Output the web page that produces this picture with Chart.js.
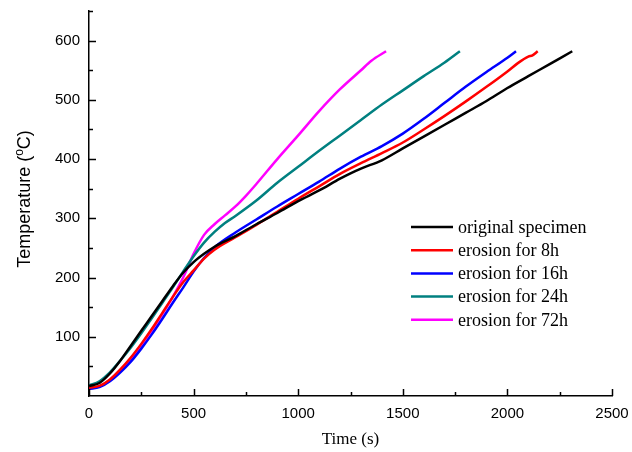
<!DOCTYPE html>
<html>
<head>
<meta charset="utf-8">
<script src="https://cdn.jsdelivr.net/npm/chart.js@4.4.1/dist/chart.umd.min.js"></script>
<style>
    html, body { margin: 0; padding: 0; background: #fff; }
</style>
</head>
<body>
<canvas id="myChart" width="632" height="452"></canvas>
<script>
// Series names and colours
const seriesNames = ["original specimen", "erosion for 8h", "erosion for 16h", "erosion for 24h", "erosion for 72h"];
const seriesColors = ["#000000", "#ff0000", "#0000ff", "#008080", "#ff00ff"];

// Time (s) and temperature (C), one pair of arrays per curve
const timeOriginal = [0, 50, 100, 150, 200, 250, 300, 350, 400, 450, 500, 550, 600, 700, 800, 900, 1000, 1100, 1200, 1250, 1300, 1400, 1500, 1600, 1700, 1800, 1900, 2000, 2100, 2200, 2310];
const tempOriginal = [17, 22, 38, 60, 85, 110, 135, 160, 185, 208, 226, 240, 252, 270, 290, 309, 329, 347, 367, 376, 384, 398, 418, 438, 458, 478, 498, 520, 540, 560, 582];

const time8h = [0, 50, 100, 150, 200, 250, 300, 350, 400, 450, 500, 550, 600, 700, 800, 900, 1000, 1100, 1200, 1300, 1400, 1500, 1600, 1700, 1800, 1900, 2000, 2050, 2100, 2120, 2145];
const temp8h = [14, 17, 28, 45, 65, 88, 113, 140, 167, 192, 212, 232, 247, 268, 289, 311, 333, 354, 375, 393, 410, 428, 450, 473, 497, 522, 548, 562, 573, 575, 582];

const time16h = [0, 50, 100, 150, 200, 250, 300, 350, 400, 450, 500, 550, 600, 700, 800, 900, 1000, 1100, 1200, 1300, 1400, 1500, 1600, 1700, 1800, 1900, 2000, 2041];
const temp16h = [12, 15, 25, 40, 58, 80, 104, 130, 157, 183, 210, 233, 251, 276, 298, 320, 341, 362, 384, 404, 422, 443, 468, 495, 522, 547, 571, 582];

const time24h = [0, 50, 100, 150, 200, 250, 300, 350, 400, 450, 500, 550, 600, 650, 700, 800, 900, 1000, 1100, 1200, 1300, 1400, 1500, 1600, 1700, 1773];
const temp24h = [18, 25, 40, 60, 82, 106, 131, 157, 183, 210, 236, 259, 277, 292, 304, 330, 360, 387, 414, 440, 466, 492, 516, 540, 563, 582];

const time72h = [0, 50, 100, 150, 200, 250, 300, 350, 400, 450, 500, 550, 600, 650, 700, 750, 800, 900, 1000, 1100, 1200, 1300, 1350, 1420];
const temp72h = [13, 16, 27, 44, 63, 86, 111, 138, 167, 200, 240, 272, 290, 305, 320, 338, 358, 400, 440, 481, 518, 550, 566, 582];

// Tick labels
const xTicks = [0, 500, 1000, 1500, 2000, 2500];
const yTicks = [100, 200, 300, 400, 500, 600];

// pair up time and temperature arrays for chart.js
function toPoints(times, temps) {
    let pts = [];
    for (let i = 0; i < times.length; i++) {
        pts.push({ x: times[i], y: temps[i] });
    }
    return pts;
}

const allTimes = [timeOriginal, time8h, time16h, time24h, time72h];
const allTemps = [tempOriginal, temp8h, temp16h, temp24h, temp72h];

let datasets = [];
for (let i = 0; i < seriesNames.length; i++) {
    datasets.push({
        label: seriesNames[i],
        data: toPoints(allTimes[i], allTemps[i]),
        borderColor: seriesColors[i],
        backgroundColor: seriesColors[i],
        borderWidth: 2.5,
        pointRadius: 0,
        cubicInterpolationMode: 'monotone',
        fill: false
    });
}

// keep the plot box where it is in the picture (no extra room for label overhang)
function noPadding(scale) {
    scale.paddingTop = 0;
    scale.paddingBottom = 0;
    scale.paddingLeft = 0;
    scale.paddingRight = 0;
}

// draws the tick marks, axis titles and the legend box
const decorations = {
    id: 'decorations',
    afterDraw: function (chart) {
        const ctx = chart.ctx;
        const area = chart.chartArea;
        const xs = chart.scales.x;
        const ys = chart.scales.y;
        ctx.save();
        ctx.strokeStyle = '#000';
        ctx.lineWidth = 1.5;

        // x ticks, pointing into the plot
        for (let v = xs.min; v <= xs.max; v += 250) {
            let px = Math.round(xs.getPixelForValue(v)) + 0.5;
            let len = (v % 500 == 0) ? 7 : 4;
            ctx.beginPath();
            ctx.moveTo(px, area.bottom);
            ctx.lineTo(px, area.bottom - len);
            ctx.stroke();
        }
        // y ticks
        for (let v = 50; v <= ys.max; v += 50) {
            let py = Math.round(ys.getPixelForValue(v)) + 0.5;
            let len = (v % 100 == 0) ? 7 : 4;
            ctx.beginPath();
            ctx.moveTo(area.left, py);
            ctx.lineTo(area.left + len, py);
            ctx.stroke();
        }

        // x title
        ctx.fillStyle = '#000';
        ctx.font = '17px "Liberation Serif", "Times New Roman", serif';
        ctx.textAlign = 'center';
        ctx.textBaseline = 'alphabetic';
        ctx.fillText('Time (s)', (area.left + area.right) / 2, 444);

        // y title with superscript o
        ctx.save();
        ctx.translate(30, 199);
        ctx.rotate(-Math.PI / 2);
        const big = '18px "Liberation Sans", Arial, sans-serif';
        const small = '12px "Liberation Sans", Arial, sans-serif';
        ctx.font = big;
        let w1 = ctx.measureText('Temperature (').width;
        let w3 = ctx.measureText('C)').width;
        ctx.font = small;
        let w2 = ctx.measureText('o').width;
        let start = -(w1 + w2 + w3) / 2;
        ctx.textAlign = 'left';
        ctx.font = big;
        ctx.fillText('Temperature (', start, 0);
        ctx.font = small;
        ctx.fillText('o', start + w1, -7);
        ctx.font = big;
        ctx.fillText('C)', start + w1 + w2, 0);
        ctx.restore();

        // legend
        ctx.font = '18px "Liberation Serif", "Times New Roman", serif';
        ctx.textAlign = 'left';
        ctx.textBaseline = 'middle';
        const lx = 411, ly = 227, gap = 23.2;
        chart.data.datasets.forEach(function (ds, i) {
            let y = ly + i * gap;
            ctx.strokeStyle = ds.borderColor;
            ctx.lineWidth = 2.5;
            ctx.beginPath();
            ctx.moveTo(lx, y);
            ctx.lineTo(lx + 42, y);
            ctx.stroke();
            ctx.fillStyle = '#000';
            ctx.fillText(ds.label, lx + 47, y + 1);
        });
        ctx.restore();
    }
};

const ctx = document.getElementById('myChart').getContext('2d');
const chart = new Chart(ctx, {
    type: 'line',
    data: { datasets: datasets },
    plugins: [decorations],
    options: {
        responsive: false,
        animation: false,
        devicePixelRatio: 1,
        layout: { padding: { top: 11, right: 20, left: 0, bottom: 0 } },
        plugins: {
            legend: { display: false },
            tooltip: { enabled: false }
        },
        scales: {
            x: {
                type: 'linear',
                min: 0,
                max: 2500,
                afterBuildTicks: function (scale) {
                    scale.ticks = xTicks.map(function (v) { return { value: v }; });
                },
                afterFit: function (scale) { scale.height = 56; noPadding(scale); },
                grid: { display: false, drawTicks: false },
                border: { display: true, color: '#000', width: 1.5 },
                ticks: {
                    color: '#000',
                    padding: 9,
                    maxRotation: 0,
                    callback: function (v) { return String(v); },
                    font: { family: '"Liberation Sans", Arial, sans-serif', size: 15 }
                }
            },
            y: {
                type: 'linear',
                min: 0,
                max: 650,
                afterBuildTicks: function (scale) {
                    scale.ticks = yTicks.map(function (v) { return { value: v }; });
                },
                afterFit: function (scale) { scale.width = 89; noPadding(scale); },
                grid: { display: false, drawTicks: false },
                border: { display: true, color: '#000', width: 1.5 },
                ticks: {
                    color: '#000',
                    padding: 9,
                    callback: function (v) { return String(v); },
                    font: { family: '"Liberation Sans", Arial, sans-serif', size: 15 }
                }
            }
        }
    }
});
</script>
</body>
</html>
